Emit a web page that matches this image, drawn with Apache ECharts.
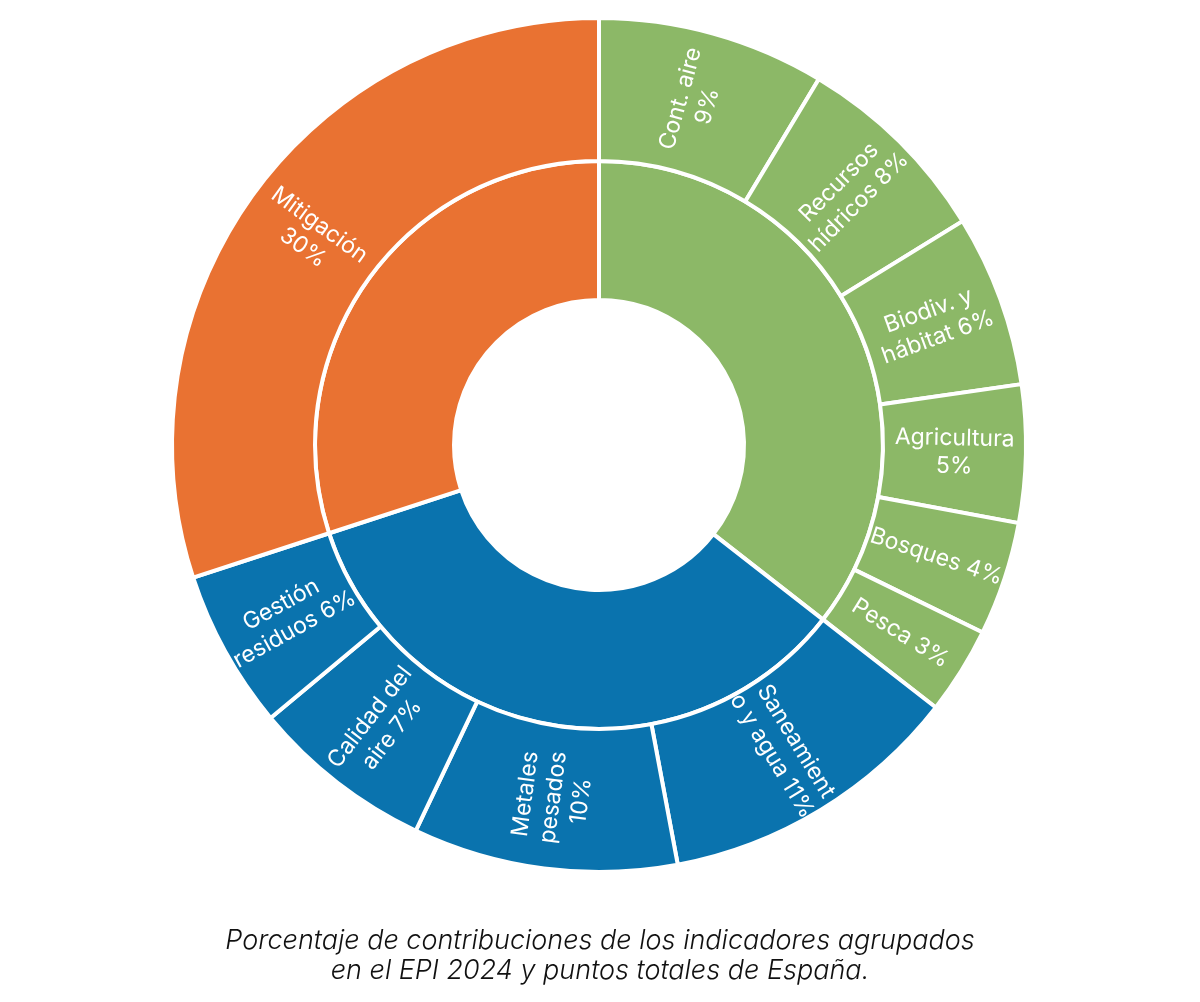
<!DOCTYPE html>
<html>
<head>
<meta charset="utf-8">
<title>EPI 2024 España</title>
<script src="https://cdn.jsdelivr.net/npm/echarts@6/dist/echarts.min.js"></script>
<style>
  html, body { margin: 0; padding: 0; background: #fff; }
  #chart { width: 1200px; height: 1002px; }
</style>
</head>
<body>
<div id="chart"></div>
<script>
// grupos (anillo interior)
var grupos = ['Vitalidad del ecosistema', 'Salud ambiental', 'Cambio climático'];
var coloresGrupo = ['#8CB867', '#0A73AE', '#E97232'];

// indicadores (anillo exterior): texto de etiqueta y tamaño estimado del sector
var etiquetasVerde = ['Cont. aire\n9%', 'Recursos\nhídricos 8%', 'Biodiv. y\nhábitat 6%', 'Agricultura\n5%', 'Bosques 4%', 'Pesca 3%'];
var valoresVerde = [8.6, 7.6, 6.5, 5.2, 4.3, 3.3];

var etiquetasAzul = ['Saneamient\no y agua 11%', 'Metales\npesados\n10%', 'Calidad del\naire 7%', 'Gestión\nresiduos 6%'];
var valoresAzul = [11.5, 10.0, 6.9, 6.0];

var etiquetasNaranja = ['Mitigación\n30%'];
var valoresNaranja = [30.0];

var hijos = [
  [etiquetasVerde, valoresVerde],
  [etiquetasAzul, valoresAzul],
  [etiquetasNaranja, valoresNaranja]
];

var datos = grupos.map(function (g, i) {
  var et = hijos[i][0], va = hijos[i][1];
  return {
    name: g,
    itemStyle: { color: coloresGrupo[i] },
    children: et.map(function (e, j) {
      return { name: e, value: va[j], itemStyle: { color: coloresGrupo[i] } };
    })
  };
});

var chart = echarts.init(document.getElementById('chart'));
chart.setOption({
  animation: false,
  title: {
    text: 'Porcentaje de contribuciones de los indicadores agrupados\nen el EPI 2024 y puntos totales de España.',
    left: 'center',
    top: 921,
    textStyle: {
      fontFamily: 'Inter',
      fontStyle: 'italic',
      fontWeight: 300,
      fontSize: 27,
      lineHeight: 30,
      color: '#111'
    }
  },
  series: [{
    type: 'sunburst',
    center: [599, 445],
    radius: [145, 427],
    sort: null,
    startAngle: 90,
    nodeClick: false,
    data: datos,
    itemStyle: { borderColor: '#fff', borderWidth: 4 },
    emphasis: { disabled: true },
    levels: [
      {},
      { r0: 145, r: 284, label: { show: false } },
      {
        r0: 284, r: 427,
        label: {
          show: true,
          rotate: 'radial',
          align: 'center',
          color: '#fff',
          fontFamily: 'Inter',
          fontSize: 23,
          lineHeight: 28
        }
      }
    ]
  }]
});
</script>
</body>
</html>
